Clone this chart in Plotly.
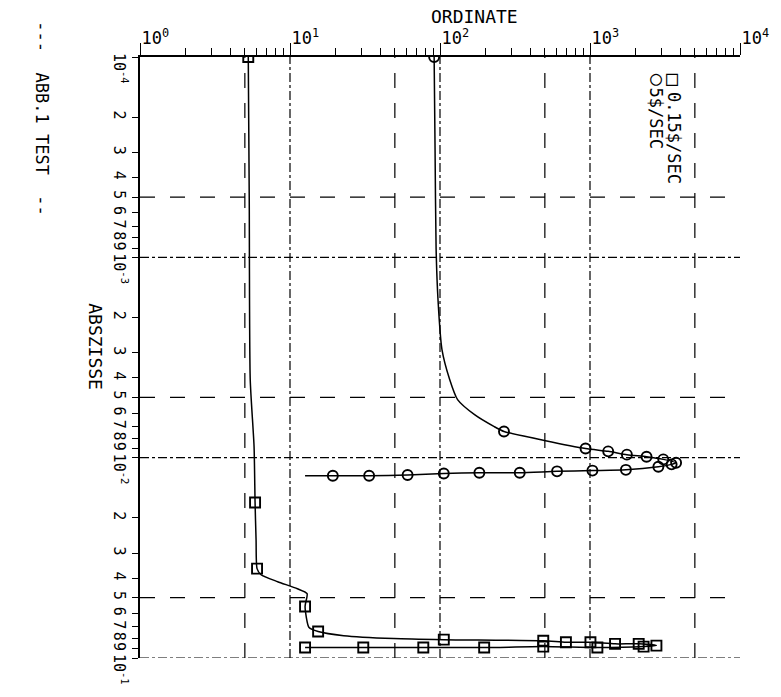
import math
import plotly.graph_objects as go

# ---------------- data ----------------
# series "5$/SEC" (circles): full drawn path, then the marked points
CIRC_PATH_ORD = [91.4, 92.7, 94.2, 97, 103, 116, 131, 170, 230, 267, 496, 934, 1322, 1762,
                 2382, 3080, 3750, 3500, 2856, 1735, 1038, 603, 340, 183, 106, 60.8, 33.7, 19.3, 12.6]
CIRC_PATH_ABS = [1.0e-4, 2.9e-4, 9.1e-4, 1.63e-3, 2.88e-3, 4.07e-3, 5.13e-3, 6.1e-3, 7.0e-3, 7.4e-3,
                 8.2e-3, 9.0e-3, 9.3e-3, 9.66e-3, 9.9e-3, 1.02e-2, 1.06e-2, 1.08e-2, 1.11e-2, 1.15e-2,
                 1.16e-2, 1.17e-2, 1.19e-2, 1.19e-2, 1.20e-2, 1.22e-2, 1.23e-2, 1.23e-2, 1.23e-2]
CIRC_MARK_ORD = [91.4, 267, 934, 1322, 1762, 2382, 3080, 3750, 3500, 2856, 1735, 1038, 603, 340,
                 183, 106, 60.8, 33.7, 19.3]
CIRC_MARK_ABS = [1.0e-4, 7.4e-3, 9.0e-3, 9.3e-3, 9.66e-3, 9.9e-3, 1.02e-2, 1.06e-2, 1.08e-2, 1.11e-2,
                 1.15e-2, 1.16e-2, 1.17e-2, 1.19e-2, 1.19e-2, 1.20e-2, 1.22e-2, 1.23e-2, 1.23e-2]

# series "0.15$/SEC" (squares)
SQ_PATH_ORD = [5.27, 5.35, 5.43, 5.76, 5.85, 5.94, 6.03, 6.41, 8.28, 11.2, 13.0, 12.6, 13.4, 15.4,
               22.8, 49.2, 106, 488, 691, 1007, 1469, 2112, 2772, 2277, 1120, 488, 197, 77.4, 30.8, 12.6]
SQ_PATH_ABS = [1.0e-4, 5.15e-4, 4.07e-3, 8.8e-3, 0.01675, 0.0257, 0.0358, 0.0384, 0.0416, 0.0451,
               0.0477, 0.0553, 0.0705, 0.0738, 0.0774, 0.0800, 0.0810, 0.0820, 0.0835, 0.0835,
               0.0850, 0.0850, 0.0867, 0.0877, 0.0887, 0.0877, 0.0887, 0.0887, 0.0887, 0.0887]
SQ_MARK_ORD = [5.27, 5.85, 6.03, 12.6, 15.4, 106, 488, 691, 1007, 1469, 2112, 2772, 2277, 1120,
               488, 197, 77.4, 30.8, 12.6]
SQ_MARK_ABS = [1.0e-4, 0.01675, 0.0358, 0.0553, 0.0738, 0.0810, 0.0820, 0.0835, 0.0835, 0.0850,
               0.0850, 0.0867, 0.0877, 0.0887, 0.0877, 0.0887, 0.0887, 0.0887, 0.0887]

SERIES_NAMES = ["5$/SEC", "0.15$/SEC"]

# axes / ticks
X_DECADES = [1, 10, 100, 1000, 10000]
X_DECADE_EXP = ["0", "1", "2", "3", "4"]
Y_DECADES = [1e-4, 1e-3, 1e-2, 1e-1]
Y_DECADE_EXP = ["-4", "-3", "-2", "-1"]
DIGITS = [2, 3, 4, 5, 6, 7, 8, 9]
GRID_X = [5, 10, 50, 100, 500, 1000, 5000]
GRID_Y = [5e-4, 1e-3, 5e-3, 1e-2, 5e-2, 1e-1]

TITLE_X = "ORDINATE"
TITLE_Y = "ABSZISSE"
CAPTION = "---  ABB.1 TEST  --"

# ---------------- figure ----------------
FONT = "DejaVu Sans Mono"
NB = "\u00a0"


def is_decade(v):
    return abs(math.log10(v) - round(math.log10(v))) < 1e-9


fig = go.Figure()
fig.add_trace(go.Scatter(x=CIRC_PATH_ORD, y=CIRC_PATH_ABS, mode="lines",
                         line=dict(color="black", width=1.5, shape="spline", smoothing=0.6),
                         showlegend=False, hoverinfo="skip"))
fig.add_trace(go.Scatter(x=CIRC_MARK_ORD, y=CIRC_MARK_ABS, mode="markers", name=SERIES_NAMES[0],
                         marker=dict(symbol="circle-open", size=10, color="black", line=dict(width=1.9)),
                         showlegend=False))
fig.add_trace(go.Scatter(x=SQ_PATH_ORD, y=SQ_PATH_ABS, mode="lines",
                         line=dict(color="black", width=1.5, shape="spline", smoothing=0.6),
                         showlegend=False, hoverinfo="skip"))
fig.add_trace(go.Scatter(x=SQ_MARK_ORD, y=SQ_MARK_ABS, mode="markers", name=SERIES_NAMES[1],
                         marker=dict(symbol="square-open", size=10, color="black", line=dict(width=1.9)),
                         showlegend=False))

# grid lines
for v in GRID_X:
    fig.add_shape(type="line", xref="x", yref="paper", x0=v, x1=v, y0=0, y1=1,
                  line=dict(color="black", width=1.2, dash="dashdot" if is_decade(v) else "longdash"),
                  layer="below")
for v in GRID_Y:
    fig.add_shape(type="line", xref="paper", yref="y", x0=0, x1=1, y0=v, y1=v,
                  line=dict(color="black", width=1.2, dash="dashdot" if is_decade(v) else "longdash"),
                  layer="below")

# tick values and labels
x_ticktext = [NB * 3 + "10<sup>" + e + "</sup>" for e in X_DECADE_EXP]
x_minor = [d * k for d in X_DECADES[:-1] for k in DIGITS]

y_tickvals, y_ticktext = [], []
for dec, e in zip(Y_DECADES, Y_DECADE_EXP):
    y_tickvals.append(dec)
    y_ticktext.append(NB * 3 + "10<sup>" + e + "</sup>")
    if dec < 0.1:
        for k in DIGITS:
            y_tickvals.append(dec * k)
            y_ticktext.append(str(k))

fig.update_layout(
    width=781, height=697,
    margin=dict(l=140, r=31, t=57, b=39),
    paper_bgcolor="white", plot_bgcolor="white",
    font=dict(family=FONT, color="black"),
    xaxis=dict(type="log", range=[0, 4], side="top", showgrid=False, zeroline=False,
               showline=True, linecolor="black", linewidth=1.5,
               ticks="outside", ticklen=12, tickwidth=1.3, tickcolor="black",
               tickvals=X_DECADES, ticktext=x_ticktext, tickfont=dict(size=17, family=FONT),
               ticklabelstandoff=-8,
               minor=dict(tickvals=x_minor, ticks="outside", ticklen=7, tickwidth=1.2,
                          tickcolor="black", showgrid=False)),
    # second top axis: only the part of the decade ticks that crosses below the axis line
    xaxis2=dict(type="log", range=[0, 4], side="top", overlaying="x", showgrid=False,
                zeroline=False, showline=False, ticks="inside", ticklen=13, tickwidth=1.3,
                tickcolor="black", tickvals=X_DECADES, showticklabels=False),
    yaxis=dict(type="log", range=[-1, -4], showgrid=False, zeroline=False,
               showline=True, linecolor="black", linewidth=1.5,
               ticks="outside", ticklen=6, tickwidth=1.2, tickcolor="black",
               tickvals=y_tickvals, ticktext=y_ticktext, tickangle=90,
               tickfont=dict(size=15, family=FONT)),
)


def px(xp):
    return (xp - 140) / 610.0


def py(yp):
    return (658 - yp) / 601.0


ann = [
    dict(text=TITLE_X, x=px(480), y=py(16), font=dict(size=18)),
    dict(text=TITLE_Y, x=px(95), y=py(347), textangle=90, font=dict(size=18)),
    dict(text=CAPTION, x=px(40), y=py(118), textangle=90, font=dict(size=17)),
    dict(text="\u25cb", x=px(665), y=py(78), font=dict(size=20)),
    dict(text="\u25a1", x=px(681), y=py(78), font=dict(size=20)),
    dict(text=SERIES_NAMES[0], x=px(665), y=py(118), textangle=90, font=dict(size=17)),
    dict(text=SERIES_NAMES[1], x=px(683), y=py(138), textangle=90, font=dict(size=17)),
]
for a in ann:
    fig.add_annotation(xref="paper", yref="paper", showarrow=False,
                       xanchor="center", yanchor="middle", **a)

fig.write_html(
    "out.html",
    config={"displayModeBar": False},
    post_script=("document.documentElement.style.overflow='hidden';"
                 "document.body.style.margin='0';document.body.style.overflow='hidden';"),
)
